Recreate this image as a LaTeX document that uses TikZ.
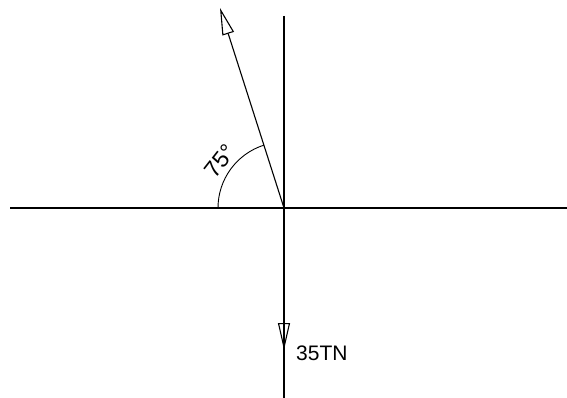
\documentclass[tikz,border=0pt]{standalone}
\usepackage{fontspec}
\setmainfont{Liberation Sans}
\usetikzlibrary{arrows.meta}
\begin{document}
\begin{tikzpicture}[x=1pt,y=-1pt,
  axis/.style={line width=1.1pt},
  force/.style={line width=1.1pt,-{Triangle[open,length=27pt,width=12pt,line width=1.1pt]}},
  lbl/.style={font=\fontsize{21}{24}\selectfont,inner sep=0pt}]
\useasboundingbox (0,0) rectangle (567,398);
\coordinate (O) at (284,208);
\coordinate (L) at (10,208);
\coordinate (R) at (567,208);
\coordinate (T) at (284,16);
\coordinate (B) at (284,398);
\coordinate (U) at (220,8);
\coordinate (D) at (284,350);
\draw[axis] (L) -- (R);
\draw[axis] (T) -- (B);
\draw[force] (O) -- (U);
\draw[force] (O) -- (D);
\draw[line width=0.9pt] (218,208) arc[start angle=180,end angle=252.3,radius=66];
\node[lbl,rotate=52,font=\fontsize{23}{26}\selectfont] (a) at (220,161) {75°};
\node[lbl,anchor=west] (f) at (296,353) {35TN};
\end{tikzpicture}
\end{document}
